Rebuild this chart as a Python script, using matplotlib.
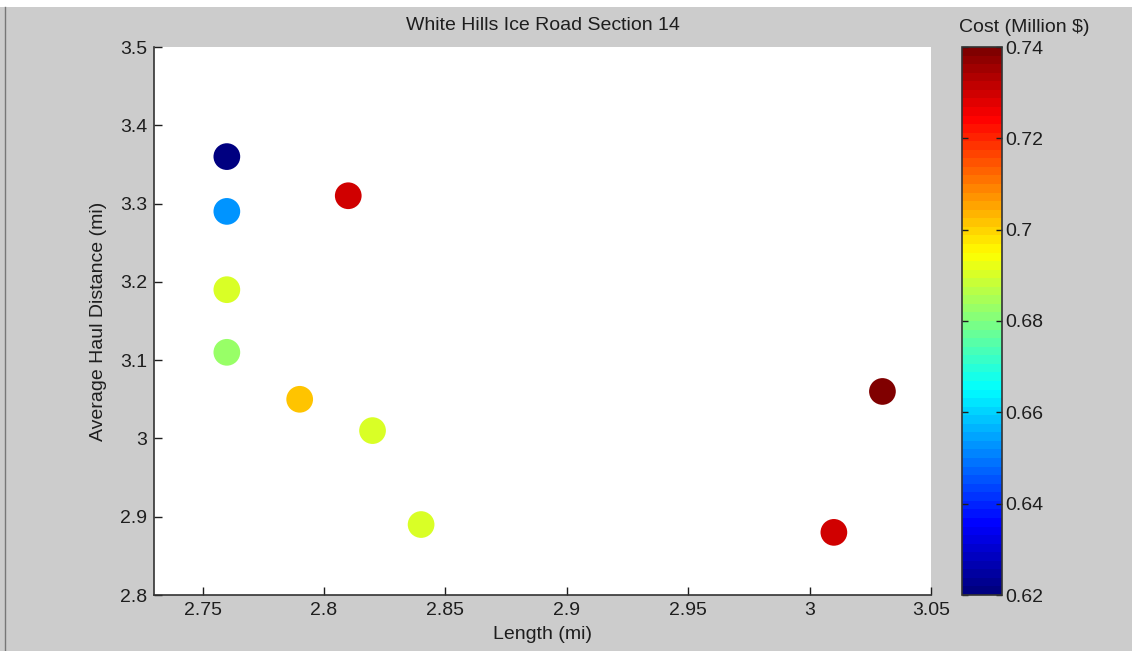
import matplotlib
matplotlib.use("Agg")
import numpy as np
import matplotlib.pyplot as plt
from matplotlib.colors import Normalize, ListedColormap
from matplotlib import cm

plt.rcParams['font.family'] = ['Liberation Sans', 'DejaVu Sans']

# Road section options
length_mi = [2.76, 2.76, 2.81, 2.76, 2.76, 2.79, 2.82, 2.84, 3.03, 3.01]
haul_mi = [3.36, 3.29, 3.31, 3.19, 3.11, 3.05, 3.01, 2.89, 3.06, 2.88]
cost_musd = [0.62, 0.653, 0.730, 0.691, 0.682, 0.701, 0.691, 0.691, 0.74, 0.730]

x_ticks = [2.75, 2.8, 2.85, 2.9, 2.95, 3.0, 3.05]
x_labels = ['2.75', '2.8', '2.85', '2.9', '2.95', '3', '3.05']
y_ticks = [2.8, 2.9, 3.0, 3.1, 3.2, 3.3, 3.4, 3.5]
y_labels = ['2.8', '2.9', '3', '3.1', '3.2', '3.3', '3.4', '3.5']
c_ticks = [0.62, 0.64, 0.66, 0.68, 0.70, 0.72, 0.74]
c_labels = ['0.62', '0.64', '0.66', '0.68', '0.7', '0.72', '0.74']


def classic_jet(n=64):
    x = np.linspace(0, 1, n)
    r = np.clip(np.minimum(4 * x - 1.5, -4 * x + 4.5), 0, 1)
    g = np.clip(np.minimum(4 * x - 0.5, -4 * x + 3.5), 0, 1)
    b = np.clip(np.minimum(4 * x + 0.5, -4 * x + 2.5), 0, 1)
    return ListedColormap(np.column_stack([r, g, b]))


FS = 14
TXT = '#1e1e1e'
W, H = 1132, 651
fig = plt.figure(figsize=(W / 100, H / 100), dpi=100, facecolor='#cccccc')

ax = fig.add_axes([154 / W, 1 - 595 / H, (931 - 154) / W, (595 - 47) / H])
cax = fig.add_axes([962 / W, 1 - 595 / H, (1002 - 962) / W, (595 - 47) / H])

cmap = classic_jet(64)
norm = Normalize(vmin=0.62, vmax=0.74)

ax.scatter(length_mi, haul_mi, c=cost_musd, cmap=cmap, norm=norm, s=370,
           edgecolors='none', zorder=3)

ax.set_xlim(2.73, 3.05)
ax.set_ylim(2.8, 3.5)
ax.set_xticks(x_ticks)
ax.set_xticklabels(x_labels)
ax.set_yticks(y_ticks)
ax.set_yticklabels(y_labels)
ax.tick_params(direction='in', length=6, width=1, labelsize=FS, colors=TXT, pad=5)
for side in ('top', 'right'):
    ax.spines[side].set_visible(False)
for side in ('left', 'bottom'):
    ax.spines[side].set_linewidth(1.2)
    ax.spines[side].set_color('#333333')

ax.set_xlabel('Length (mi)', fontsize=FS, labelpad=5, color=TXT)
ax.set_ylabel('Average Haul Distance (mi)', fontsize=FS, labelpad=9, color=TXT)
ax.set_title('White Hills Ice Road Section 14', fontsize=FS, pad=12, color=TXT)

cb = fig.colorbar(cm.ScalarMappable(norm=norm, cmap=cmap), cax=cax)
cb.set_ticks(c_ticks)
cb.set_ticklabels(c_labels)
cax.tick_params(direction='in', length=4, width=1, left=True, right=True,
                labelsize=FS, colors=TXT, pad=2)
cb.outline.set_linewidth(1.2)
cb.outline.set_edgecolor('#333333')
cax.text(-0.08, 1.02, 'Cost (Million $)', transform=cax.transAxes, ha='left',
         va='bottom', fontsize=FS, color=TXT)

# window edges
fig.add_artist(plt.Rectangle((0, 1 - 7 / H), 1, 7 / H, transform=fig.transFigure,
                             facecolor='white', edgecolor='none'))
fig.add_artist(plt.Line2D([4.5 / W, 4.5 / W], [0, 1 - 7 / H], transform=fig.transFigure,
                          color='#777777', lw=1))

fig.savefig('out.png', dpi=100, facecolor=fig.get_facecolor())
